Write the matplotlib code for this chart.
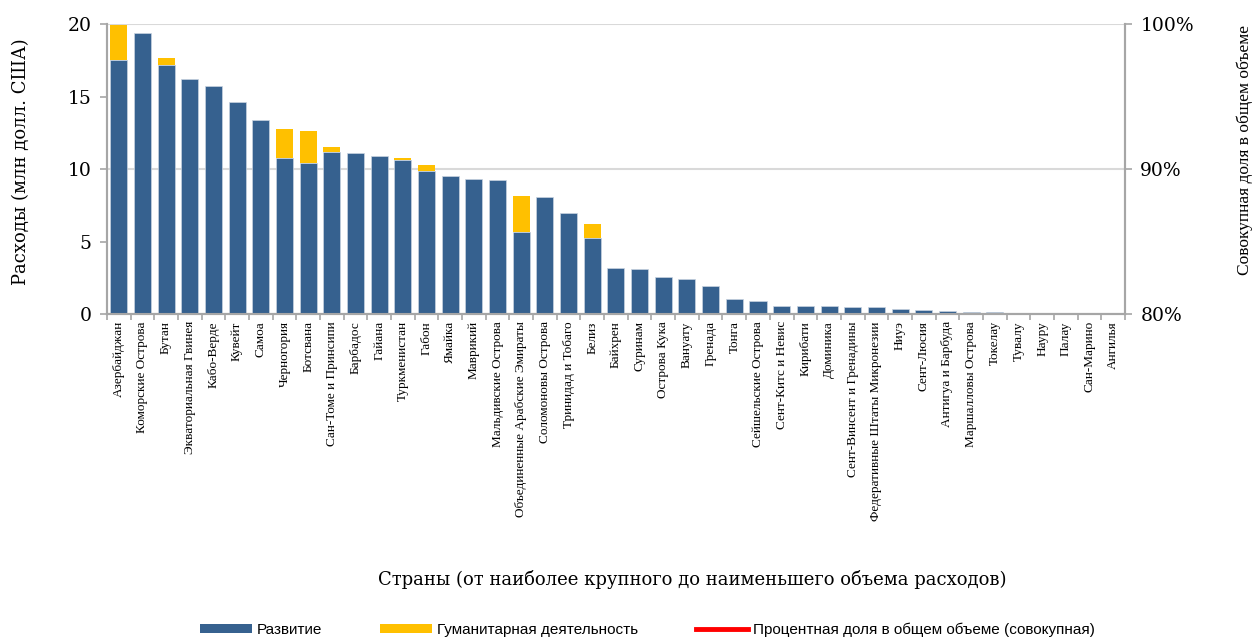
import numpy as np
import matplotlib
matplotlib.use("Agg")
import matplotlib.pyplot as plt
from matplotlib.patches import Patch
from matplotlib.lines import Line2D

# Страны, от наиболее крупного до наименьшего объема расходов
countries = [
    "Азербайджан", "Коморские Острова", "Бутан", "Экваториальная Гвинея", "Кабо-Верде",
    "Кувейт", "Самоа", "Черногория", "Ботсвана", "Сан-Томе и Принсипи", "Барбадос",
    "Гайана", "Туркменистан", "Габон", "Ямайка", "Маврикий", "Мальдивские Острова",
    "Объединенные Арабские Эмираты", "Соломоновы Острова", "Тринидад и Тобаго", "Белиз",
    "Байхрен", "Суринам", "Острова Кука", "Вануату", "Гренада", "Тонга",
    "Сейшельские Острова", "Сент-Китс и Невис", "Кирибати", "Доминика",
    "Сент-Винсент и Гренадины", "Федеративные Штаты Микронезии", "Ниуэ", "Сент-Люсия",
    "Антигуа и Барбуда", "Маршалловы Острова", "Токелау", "Тувалу", "Науру", "Палау",
    "Сан-Марино", "Ангилья",
]
# Развитие (млн долл. США)
development = [
    17.5, 19.4, 17.2, 16.2, 15.7, 14.6, 13.4, 10.8, 10.4, 11.2, 11.1,
    10.9, 10.6, 9.85, 9.55, 9.3, 9.25, 5.7, 8.05, 7.0, 5.25,
    3.2, 3.1, 2.55, 2.4, 1.95, 1.05, 0.9, 0.6, 0.6, 0.55,
    0.5, 0.5, 0.35, 0.3, 0.25, 0.12, 0.12, 0.03, 0.02, 0.01, 0.0, 0.0,
]
# Гуманитарная деятельность (млн долл. США)
humanitarian = [
    2.4, 0.0, 0.45, 0.0, 0.0, 0.0, 0.0, 1.95, 2.2, 0.35, 0.0,
    0.0, 0.2, 0.45, 0.0, 0.0, 0.0, 2.45, 0.0, 0.0, 1.0,
    0.0, 0.0, 0.0, 0.0, 0.0, 0.0, 0.0, 0.0, 0.0, 0.0,
    0.0, 0.0, 0.0, 0.0, 0.0, 0.0, 0.0, 0.0, 0.0, 0.0, 0.0, 0.0,
]

blue = "#36618f"
gold = "#ffc000"
grey = "#a6a6a6"
serif = ["Liberation Serif", "DejaVu Serif"]
label_font = ["DejaVu Serif"]

fig = plt.figure(figsize=(12.57, 6.4), dpi=100)
ax = fig.add_axes([0.085, 0.509, 0.81, 0.4535])
ax2 = ax.twinx()
ax.set_zorder(ax2.get_zorder() + 1)
ax.patch.set_visible(False)

x = np.arange(len(countries))
ax.bar(x, development, width=0.72, color=blue, edgecolor="#c9d3e0", linewidth=0.5)
ax.bar(x, humanitarian, width=0.72, bottom=development, color=gold, linewidth=0)

ax.set_xlim(-0.5, len(countries) - 0.5)
ax.set_ylim(0, 20)
ax.set_yticks([0, 5, 10, 15, 20])
ax.set_xticks(x)
ax.set_xticklabels(countries, rotation=90, fontsize=9.5, family=serif)
ax.set_xticks(np.arange(-0.5, len(countries), 1), minor=True)
ax.tick_params(axis="x", which="major", length=0, pad=5)
ax.tick_params(axis="x", which="minor", length=4, color=grey, width=1.2)
ax.tick_params(axis="y", length=5, color=grey, width=1.2, labelsize=13.5, pad=6)
for lab in ax.get_yticklabels():
    lab.set_family(label_font)

ax2.set_ylim(0.8, 1.0)
ax2.set_yticks([0.8, 0.9, 1.0])
ax2.set_yticklabels(["80%", "90%", "100%"], fontsize=13.5, family=label_font)
ax2.tick_params(axis="y", length=5, color=grey, width=1.2, pad=6)
ax2.grid(axis="y", color="#d9d9d9", linewidth=1.5)

for a in (ax, ax2):
    a.spines["top"].set_visible(False)
    for s in ("left", "right", "bottom"):
        a.spines[s].set_color(grey)
        a.spines[s].set_linewidth(1.5)

fig.text(0.017, 0.747, "Расходы (млн долл. США)", rotation=90, va="center", ha="center",
         fontsize=13, family=label_font)
fig.text(0.99, 0.766, "Совокупная доля в общем объеме", rotation=90, va="center",
         ha="center", fontsize=12.5, family=serif)
fig.text(0.551, 0.094, "Страны (от наиболее крупного до наименьшего объема расходов)",
         ha="center", va="center", fontsize=13, family=label_font)

handles = [
    Patch(facecolor=blue, edgecolor="none"),
    Patch(facecolor=gold, edgecolor="none"),
    Line2D([0], [0], color="#ff0000", linewidth=3.5),
]
labels = ["Развитие", "Гуманитарная деятельность",
          "Процентная доля в общем объеме (совокупная)"]
fig.legend(handles, labels, loc="center", bbox_to_anchor=(0.515, 0.016), ncol=3,
           frameon=False, handlelength=3.4, handleheight=0.6,
           columnspacing=3.8, handletextpad=0.3,
           prop={"family": ["Liberation Sans Narrow", "Liberation Sans", "DejaVu Sans"],
                 "size": 11})

fig.savefig("out.png", dpi=100)
